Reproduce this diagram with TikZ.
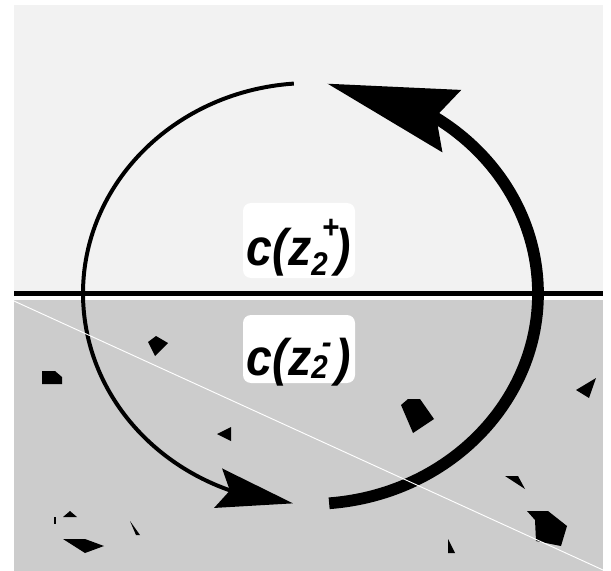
\documentclass[tikz,border=0pt]{standalone}
\usepackage{xcolor}
\definecolor{colUpper}{RGB}{242,242,242}
\definecolor{colLower}{RGB}{204,204,204}
\usepackage{fontspec}
\setmainfont{Liberation Sans}
\usepackage{tikz}
\usetikzlibrary{arrows.meta, bending}

% small script text beside the z
\newcommand\lblsmall{\fontsize{28}{28}\selectfont}
\newcommand\lblidx[3]{\rlap{\raisebox{#1}{\lblsmall 2}}\hspace{10pt}%
  \rlap{\raisebox{#2}{\lblsmall #3}}\hspace{13pt}}

\tikzset{
  lbl/.style={fill=white, rounded corners=2.4mm, inner xsep=0pt, inner ysep=0pt,
    minimum width=33.6mm, anchor=base,
    font=\fontsize{44}{48}\selectfont\bfseries\itshape},
  shard/.style={fill=black},
  arcthin/.style={line width=3.4pt, -{Stealth[length=65pt, width=34pt, inset=10pt]}},
  arcthick/.style={line width=10pt, -{Stealth[length=110pt, width=54pt, inset=13pt]}}
}

\begin{document}
\begin{tikzpicture}[x=0.3mm, y=-0.3mm]
  \useasboundingbox (0,0) rectangle (611,571);
  % the two half planes
  \fill[colUpper] (14,5) rectangle (603,291);
  \fill[colLower] (14,300) rectangle (603,571);
  % debris in the lower half
  \fill[shard] (148,342) -- (156,336) -- (168,343) -- (155,356) -- cycle;
  \fill[shard] (42,371) -- (55,371) -- (62,377) -- (62,384) -- (42,384) -- cycle;
  \fill[shard] (217,434) -- (231,427) -- (231,441) -- cycle;
  \fill[shard] (401,405) -- (408,399) -- (420,399) -- (434,419) -- (413,433) -- cycle;
  \fill[shard] (576,390) -- (596,378) -- (589,398) -- cycle;
  \fill[shard] (505,476) -- (518,476) -- (525,489) -- cycle;
  \fill[shard] (527,511) -- (548,511) -- (567,526) -- (561,546) -- (536,541) -- (535,520) -- cycle;
  \fill[shard] (448,539) -- (455,553) -- (448,553) -- cycle;
  \fill[shard] (63,517) -- (70,511) -- (77,517) -- cycle;
  \fill[shard] (54,517) rectangle (56,524);
  \fill[shard] (130,521) -- (140,535) -- (136,535) -- cycle;
  \fill[shard] (63,539) -- (85,539) -- (104,546) -- (85,553) -- cycle;
  % boundary
  \coordinate (lft) at (14,293.5);
  \coordinate (rgt) at (603,293.5);
  \draw[line width=4.25pt] (lft) -- (rgt);
  % contour
  \coordinate (ctr) at (310.5,293.5);
  \draw[arcthin] ([shift={(-94.2:227.5 and 210.5)}]ctr)
    arc[start angle=-94.2, end angle=-265.6, x radius=227.5, y radius=210.5];
  \draw[arcthick] ([shift={(85.3:227.5 and 210.5)}]ctr)
    arc[start angle=85.3, end angle=-85.8, x radius=227.5, y radius=210.5];
  \draw[white, line width=0.8pt] (14,301) -- (603,570);
  % labels
  \node[lbl, text height=18.6mm, text depth=3.9mm] (cUp) at (299,265)
    {\scalebox{0.9}[1]{c(z\lblidx{-9pt}{23pt}{+})}};
  \node[lbl, text height=18mm, text depth=2.4mm] (cDown) at (299,375)
    {\scalebox{0.9}[1]{c(z\lblidx{-3pt}{18pt}{-})}};
\end{tikzpicture}
\end{document}
